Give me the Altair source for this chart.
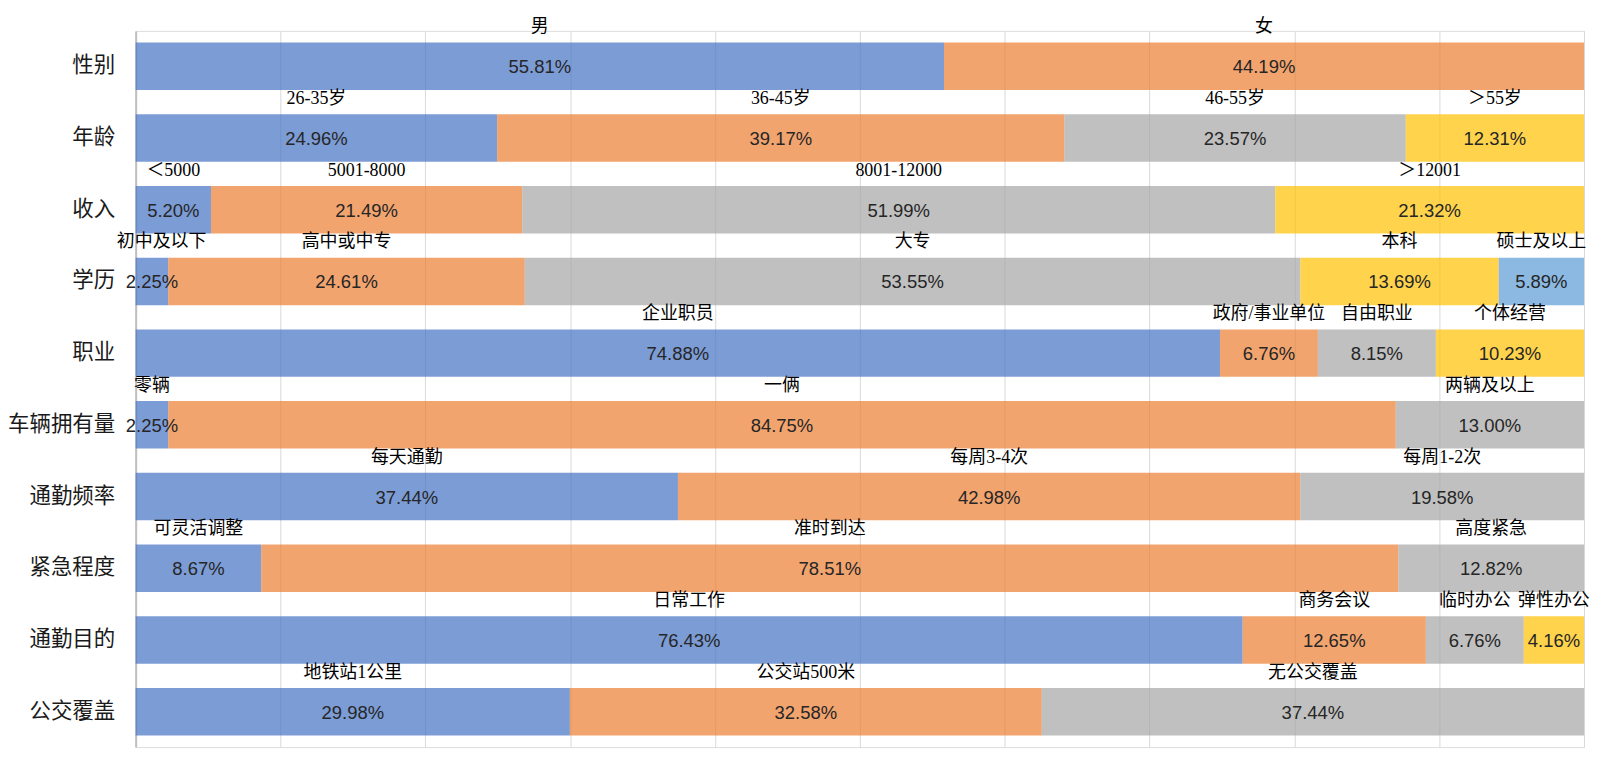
import altair as alt
import pandas as pd

rows = ["性别", "年龄", "收入", "学历", "职业", "车辆拥有量", "通勤频率", "紧急程度", "通勤目的", "公交覆盖"]

cat_gender = ["男", "女"]
val_gender = [55.81, 44.19]
cat_age = ["26-35岁", "36-45岁", "46-55岁", "＞55岁"]
val_age = [24.96, 39.17, 23.57, 12.31]
cat_income = ["＜5000", "5001-8000", "8001-12000", "＞12001"]
val_income = [5.20, 21.49, 51.99, 21.32]
cat_edu = ["初中及以下", "高中或中专", "大专", "本科", "硕士及以上"]
val_edu = [2.25, 24.61, 53.55, 13.69, 5.89]
cat_job = ["企业职员", "政府/事业单位", "自由职业", "个体经营"]
val_job = [74.88, 6.76, 8.15, 10.23]
cat_car = ["零辆", "一俩", "两辆及以上"]
val_car = [2.25, 84.75, 13.00]
cat_freq = ["每天通勤", "每周3-4次", "每周1-2次"]
val_freq = [37.44, 42.98, 19.58]
cat_urg = ["可灵活调整", "准时到达", "高度紧急"]
val_urg = [8.67, 78.51, 12.82]
cat_purp = ["日常工作", "商务会议", "临时办公", "弹性办公"]
val_purp = [76.43, 12.65, 6.76, 4.16]
cat_bus = ["地铁站1公里", "公交站500米", "无公交覆盖"]
val_bus = [29.98, 32.58, 37.44]

groups = [
    (cat_gender, val_gender), (cat_age, val_age), (cat_income, val_income),
    (cat_edu, val_edu), (cat_job, val_job), (cat_car, val_car),
    (cat_freq, val_freq), (cat_urg, val_urg), (cat_purp, val_purp),
    (cat_bus, val_bus),
]

palette = ["#4472C4", "#ED7D31", "#A5A5A5", "#FFC000", "#5B9BD5"]

PLOT_W = 1452
PLOT_H = 718
CAT_SIZE = 18


def text_width(s, size):
    w = 0
    for ch in s:
        w += size if ord(ch) > 0x2000 else size * 0.5
    return w


recs = []
for r, (cats, vals) in zip(rows, groups):
    total = sum(vals)
    acc = 0.0
    for i, (c, v) in enumerate(zip(cats, vals)):
        s = acc / total * 100
        e = (acc + v) / total * 100
        acc += v
        mid = (s + e) / 2
        # keep category label inside the drawing area
        half = text_width(c, CAT_SIZE) / 2 / PLOT_W * 100
        lo = -19 / PLOT_W * 100 + half
        hi = 100 + 7 / PLOT_W * 100 - half
        lab = min(max(mid, lo), hi)
        recs.append({"row": r, "cat": c, "val": v, "start": s, "end": e,
                     "mid": mid, "labx": lab, "idx": str(i),
                     "pct": f"{v:.2f}%"})

df = pd.DataFrame(recs)

y_enc = alt.Y("row:N", sort=rows,
              scale=alt.Scale(paddingInner=0.338, paddingOuter=0.162),
              axis=alt.Axis(title=None, ticks=False, labelPadding=21,
                            labelFontSize=21.5, labelFont="Noto Sans CJK SC",
                            labelColor="#1a1a1a", domainColor="#bfbfbf",
                            domainWidth=2, grid=False))

x_scale = alt.Scale(domain=[0, 100], nice=False, zero=True)
x_axis = alt.Axis(title=None, labels=False, ticks=False, domain=False,
                  grid=True, gridColor="#d9d9d9", gridWidth=1,
                  values=[0, 10, 20, 30, 40, 50, 60, 70, 80, 90, 100])

bars = alt.Chart(df).mark_bar(opacity=0.7, cornerRadius=0).encode(
    x=alt.X("start:Q", scale=x_scale, axis=x_axis),
    x2="end:Q",
    y=y_enc,
    color=alt.Color("idx:N", scale=alt.Scale(domain=["0", "1", "2", "3", "4"],
                                            range=palette), legend=None),
)

pct_text = alt.Chart(df).mark_text(
    font="Liberation Sans Narrow, Liberation Sans, Arial, sans-serif",
    fontSize=18.5, color="#262626",
    baseline="middle", align="center", dy=1,
).encode(
    x=alt.X("mid:Q", scale=x_scale),
    y=alt.Y("row:N", sort=rows),
    text="pct:N",
)

cat_text = alt.Chart(df).mark_text(
    font="Liberation Serif, Noto Sans CJK SC", fontSize=CAT_SIZE, color="#000000",
    baseline="middle", align="center", dy=-39,
).encode(
    x=alt.X("labx:Q", scale=x_scale),
    y=alt.Y("row:N", sort=rows),
    text="cat:N",
)

chart = alt.layer(bars, pct_text, cat_text).properties(
    width=PLOT_W, height=PLOT_H,
    autosize=alt.AutoSizeParams(type="none"),
    padding={"left": 128, "top": 22, "right": 8, "bottom": 2},
).configure_view(stroke=None).configure(background="white")

chart.save("out.html", embed_options={"renderer": "svg", "actions": False})
